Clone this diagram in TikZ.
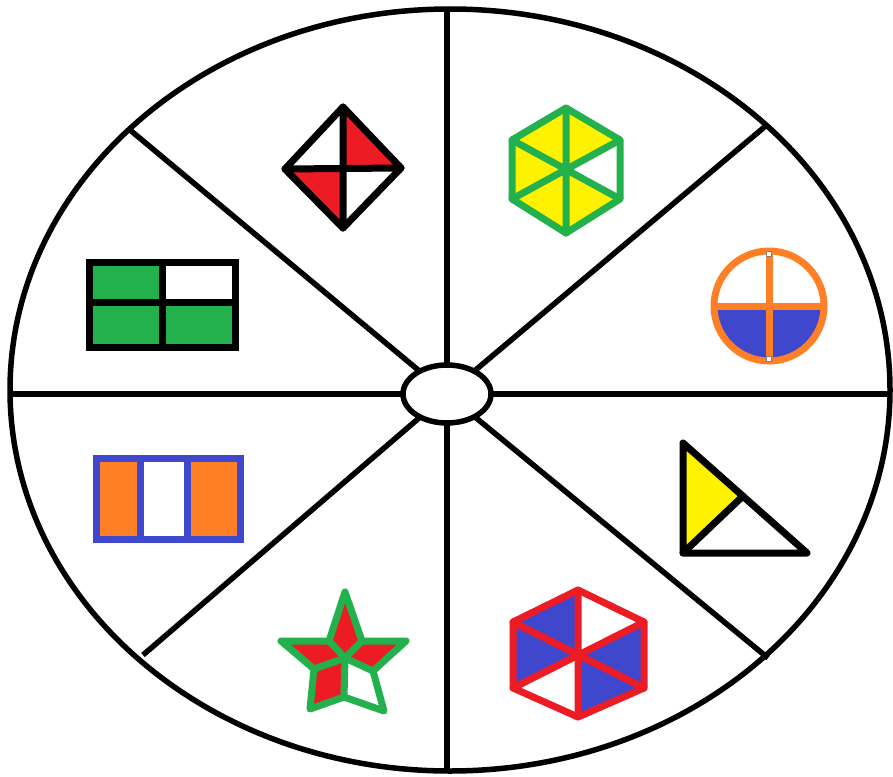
\documentclass[tikz,border=0pt]{standalone}
\usetikzlibrary{calc}
\definecolor{pgreen}{HTML}{22B14C}
\definecolor{pyellow}{HTML}{FFF200}
\definecolor{pred}{HTML}{ED1C24}
\definecolor{porange}{HTML}{FF7F27}
\definecolor{pblue}{HTML}{3F48CC}
\tikzset{
  wheel/.style={line width=5.5pt, black},
  pshape/.style={line width=7pt, line join=round, line cap=round},
}
\begin{document}
\begin{tikzpicture}[x=1pt,y=-1pt]
\useasboundingbox[fill=white] (0,0) rectangle (893,776);
% wheel
\coordinate (O) at (447,394);
\coordinate (eN) at (447,10);
\coordinate (eS) at (447,771);
\coordinate (eW) at (10,394);
\coordinate (eE) at (890,394);
\coordinate (eNW) at (130,130);
\coordinate (eNE) at (768,124);
\coordinate (eSE) at (768,658);
\coordinate (eSW) at (143,655);
\foreach \p in {eN,eS,eW,eE,eNW,eNE,eSE,eSW} \draw[wheel] (O) -- (\p);
\draw[wheel] (450,390) ellipse [x radius=440, y radius=381];
\draw[wheel, fill=white] (O) ellipse [x radius=44, y radius=29];

% diamond
\coordinate (dT) at (343,107); \coordinate (dL) at (285,169);
\coordinate (dR) at (401,168); \coordinate (dB) at (343,228);
\coordinate (dC) at (343,168);
\fill[pred] (dC) -- (dT) -- (dR) -- cycle;
\fill[pred] (dC) -- (dL) -- (dB) -- cycle;
\draw[pshape] (dT) -- (dR) -- (dB) -- (dL) -- cycle;
\draw[pshape] (dT) -- (dB) (dL) -- (dR);

% green hexagon
\coordinate (gT) at (566,108); \coordinate (gUL) at (512,140);
\coordinate (gUR) at (620,140); \coordinate (gLL) at (512,199);
\coordinate (gLR) at (620,199); \coordinate (gB) at (566,233);
\coordinate (gC) at (566,170);
\fill[pyellow] (gT) -- (gUR) -- (gC) -- (gLR) -- (gB) -- (gLL) -- (gUL) -- cycle;
\draw[pshape, pgreen] (gT) -- (gUR) -- (gLR) -- (gB) -- (gLL) -- (gUL) -- cycle;
\draw[pshape, pgreen] (gT) -- (gB) (gUL) -- (gLR) (gUR) -- (gLL);

% orange circle
\coordinate (cC) at (769,306);
\fill[pblue] (714,306) arc[start angle=180, end angle=0, radius=55] -- cycle;
\draw[pshape, porange] (cC) circle[radius=55];
\draw[pshape, porange, line cap=butt] (714,306) -- (824,306) (769,251) -- (769,361);
\draw[gray, fill=white, line width=0.8pt] (766.5,251.5) rectangle (771.5,256.5);
\draw[gray, fill=white, line width=0.8pt] (766.5,356) rectangle (771.5,361);

% triangle
\coordinate (tA) at (683,443); \coordinate (tBl) at (683,553);
\coordinate (tBr) at (807,553); \coordinate (tP) at (743,496);
\fill[pyellow] (tA) -- (tP) -- (tBl) -- cycle;
\draw[pshape] (tA) -- (tBr) -- (tBl) -- cycle;
\draw[pshape] (tBl) -- (tP);

% red hexagon
\coordinate (rT) at (578,590); \coordinate (rUL) at (513,622);
\coordinate (rUR) at (644,622); \coordinate (rLL) at (513,688);
\coordinate (rLR) at (644,688); \coordinate (rB) at (578,717);
\coordinate (rC) at (578,654);
\fill[pblue] (rC) -- (rT) -- (rUL) -- (rLL) -- cycle;
\fill[pblue] (rC) -- (rUR) -- (rLR) -- (rB) -- cycle;
\draw[pshape, pred] (rT) -- (rUR) -- (rLR) -- (rB) -- (rLL) -- (rUL) -- cycle;
\draw[pshape, pred] (rT) -- (rB) (rUL) -- (rLR) (rUR) -- (rLL);

% star
\coordinate (sT) at (345,592); \coordinate (sR) at (406,641);
\coordinate (sBR) at (384,711); \coordinate (sBL) at (310,709);
\coordinate (sL) at (281,641);
\coordinate (s1) at (362,641); \coordinate (s2) at (373,671);
\coordinate (s3) at (344,697); \coordinate (s4) at (314,669);
\coordinate (s5) at (329,641);
\coordinate (sC) at (345,658);
\fill[pred] (sC) -- (s2) -- (sR) -- (s1) -- (sT) -- (s5) -- (sL) -- (s4) -- (sBL) -- (s3) -- cycle;
\draw[pshape, pgreen] (sT) -- (s1) -- (sR) -- (s2) -- (sBR) -- (s3) -- (sBL) -- (s4) -- (sL) -- (s5) -- cycle;
\foreach \p in {s1,s2,s3,s4,s5} \draw[pshape, pgreen] (sC) -- (\p);

% orange/white rectangle
\fill[porange] (96,458) rectangle (140,539);
\fill[porange] (187,458) rectangle (240,539);
\draw[pshape, pblue, line join=miter] (96,458) rectangle (240,539);
\draw[pshape, pblue, line cap=butt] (140,458) -- (140,542) (187,458) -- (187,542);

% green rectangle
\fill[pgreen] (89,262) rectangle (162,347);
\fill[pgreen] (162,302) rectangle (235,347);
\draw[line width=7pt, line join=miter] (89,262) rectangle (235,347);
\draw[line width=7pt] (162,262) -- (162,347) (89,302) -- (235,302);
\end{tikzpicture}
\end{document}
